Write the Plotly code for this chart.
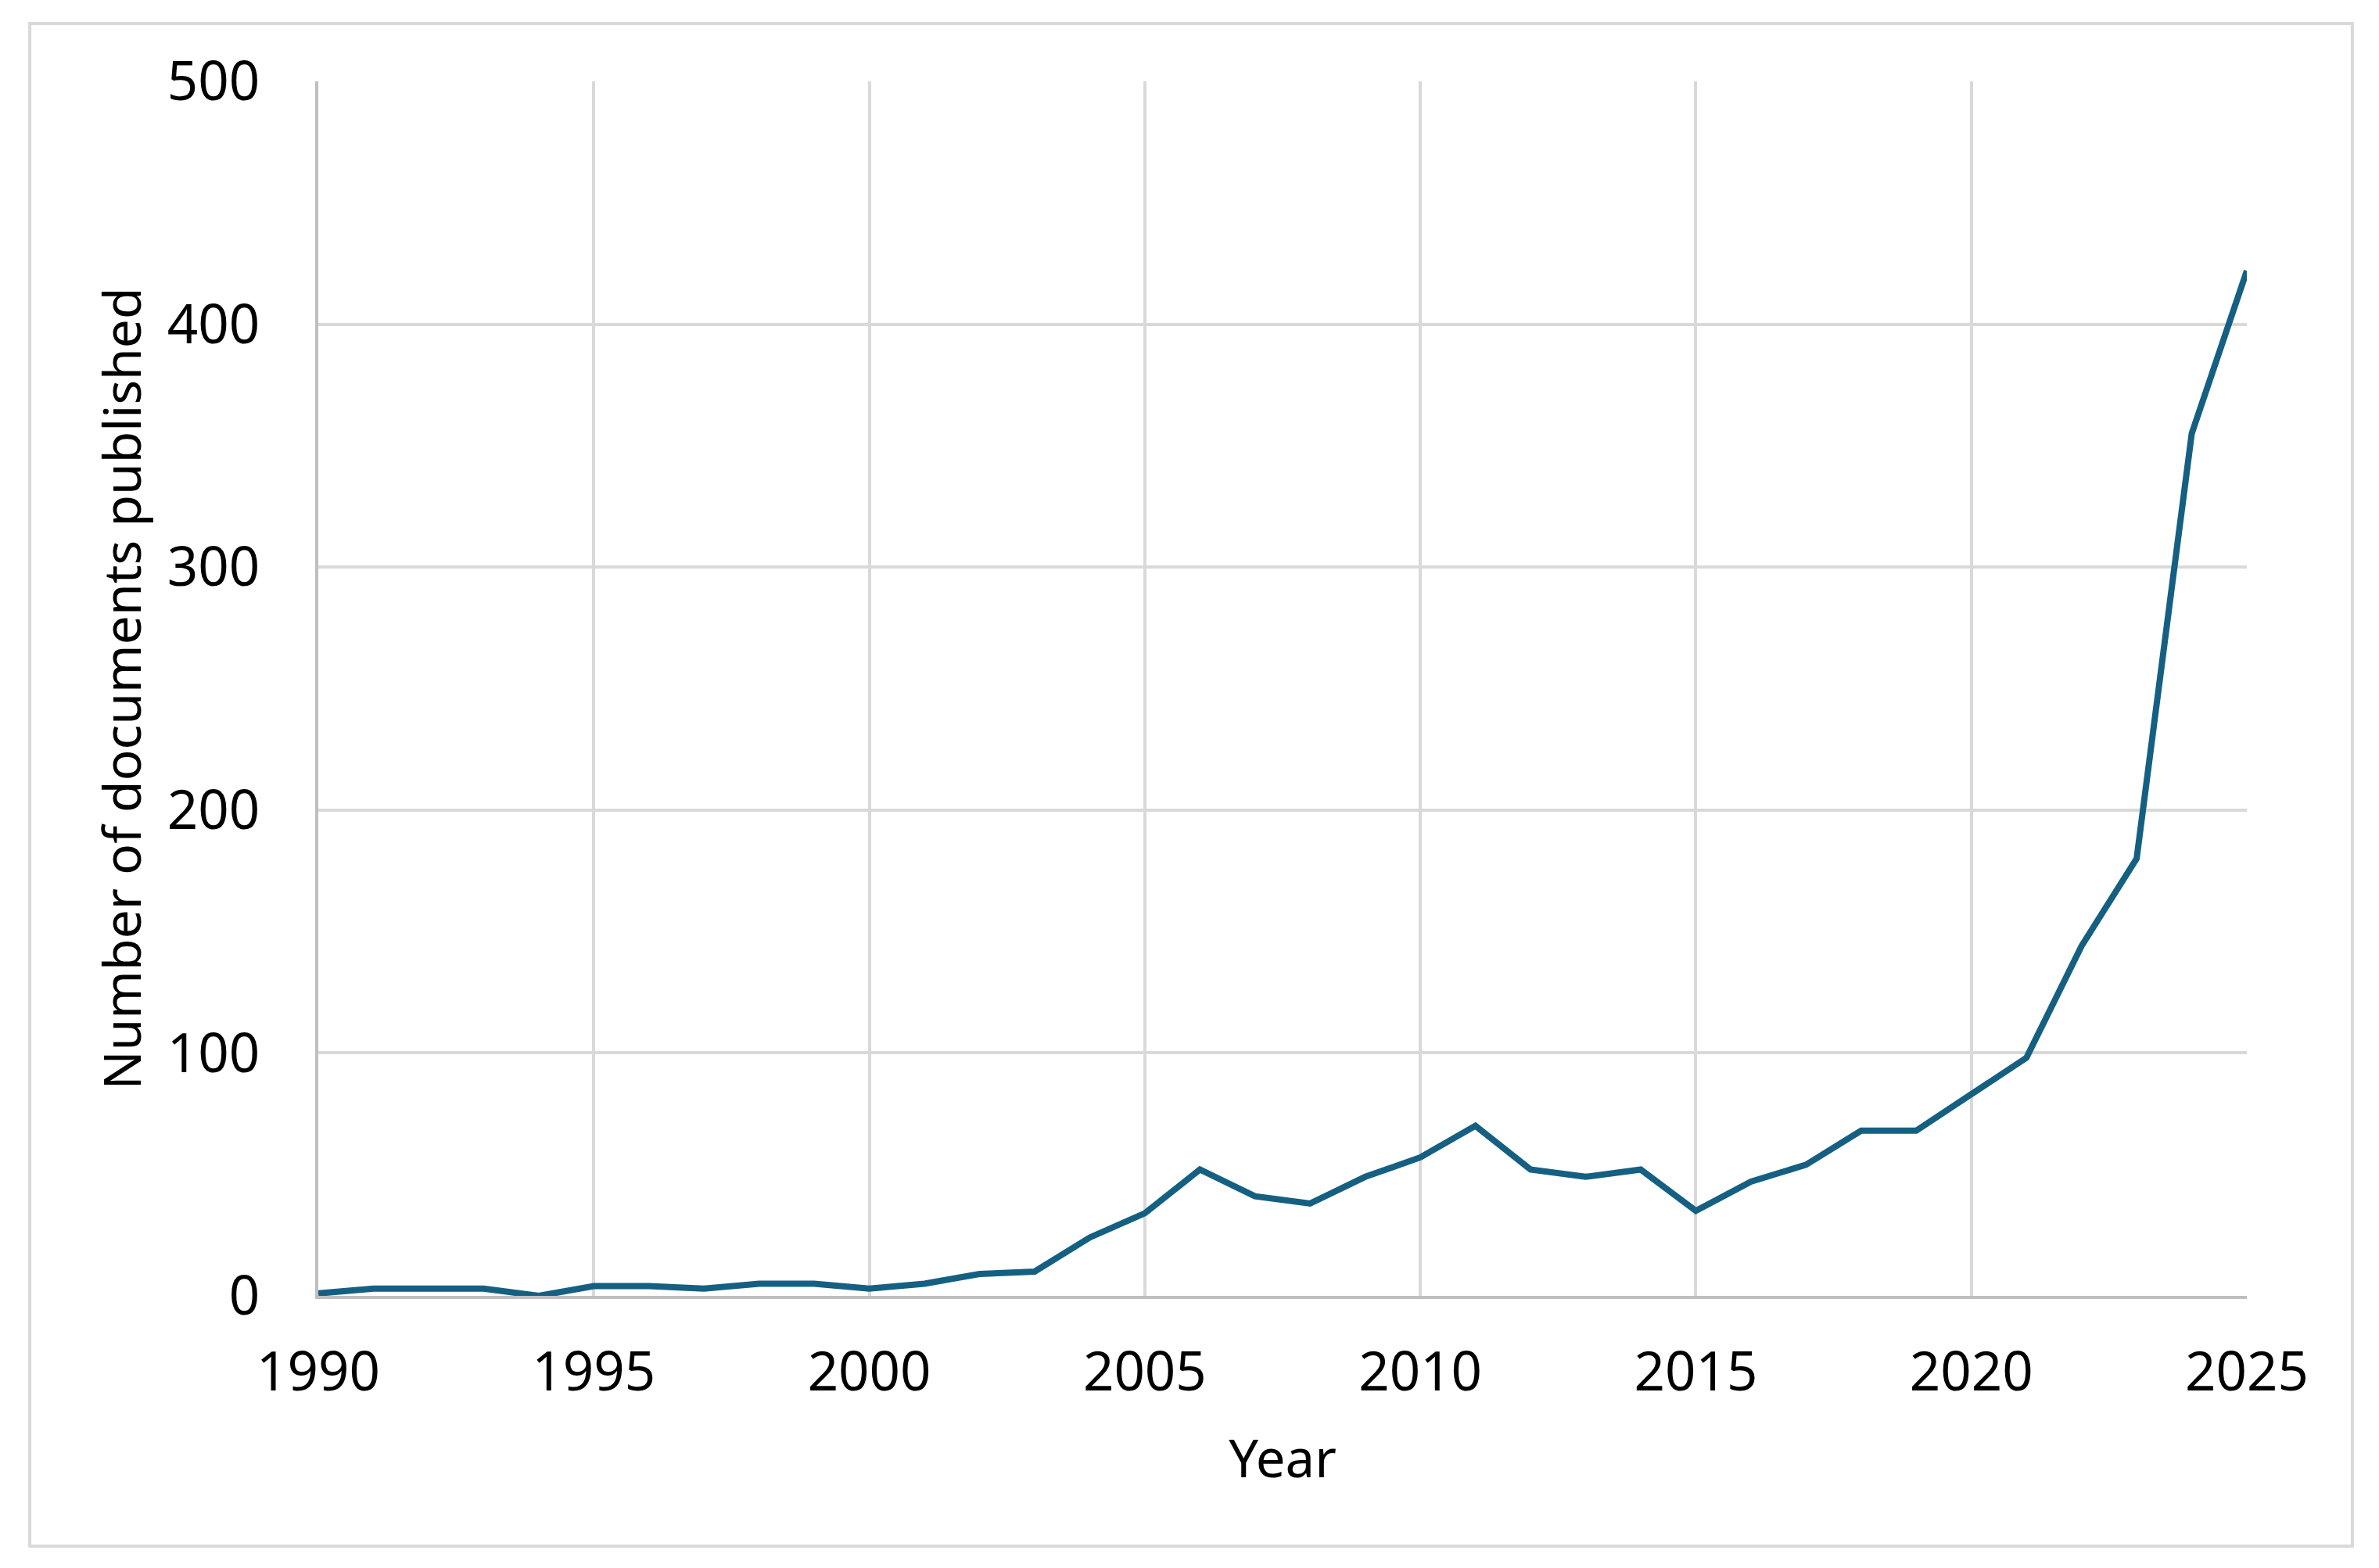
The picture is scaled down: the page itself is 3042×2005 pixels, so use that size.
import plotly.graph_objects as go

years = list(range(1990, 2026))
documents = [1, 3, 3, 3, 0, 4, 4, 3, 5, 5,
             3, 5, 9, 10, 24, 34, 52, 41, 38, 49,
             57, 70, 52, 49, 52, 35, 47, 54, 68, 68,
             83, 98, 144, 180, 355, 422]

x_ticks = list(range(1990, 2026, 5))
y_ticks = [0, 100, 200, 300, 400, 500]

font_family = "Noto Sans"
line_color = '#156082'
grid_color = '#D9D9D9'
axis_color = '#BFBFBF'

fig = go.Figure()
fig.add_trace(go.Scatter(x=years, y=documents, mode='lines',
                         line=dict(color=line_color, width=8),
                         cliponaxis=False, showlegend=False))

fig.update_xaxes(range=[1990, 2025], tickvals=x_ticks,
                 showgrid=True, gridcolor=grid_color, gridwidth=3.5,
                 showline=True, linecolor=axis_color, linewidth=4,
                 zeroline=False, ticks='', layer='below traces',
                 ticklabelstandoff=34,
                 tickfont=dict(family=font_family, size=69, color='black'),
                 title=dict(text='Year', standoff=46,
                            font=dict(family=font_family, size=67, color='black')))
fig.update_yaxes(range=[0, 500], tickvals=y_ticks,
                 showgrid=True, gridcolor=grid_color, gridwidth=3.5,
                 showline=True, linecolor=axis_color, linewidth=4,
                 zeroline=False, ticks='', layer='below traces',
                 ticklabelstandoff=57,
                 tickfont=dict(family=font_family, size=69, color='black'),
                 title=dict(text='Number of documents published', standoff=13,
                            font=dict(family=font_family, size=66, color='black')))

# chart border, like the Excel chart area outline
fig.add_shape(type='rect', xref='paper', yref='paper',
              x0=-0.1496, x1=1.0547, y0=-0.2060, y1=1.0477,
              line=dict(color=grid_color, width=4), layer='below')

fig.update_layout(width=3042, height=2005,
                  margin=dict(l=407, r=169, t=104, b=348, autoexpand=False),
                  plot_bgcolor='white', paper_bgcolor='white',
                  font=dict(family=font_family, color='black'))

fig.write_html("out.html", config={'displayModeBar': False},
               post_script="document.body.style.margin='0';document.body.style.overflow='hidden';")
